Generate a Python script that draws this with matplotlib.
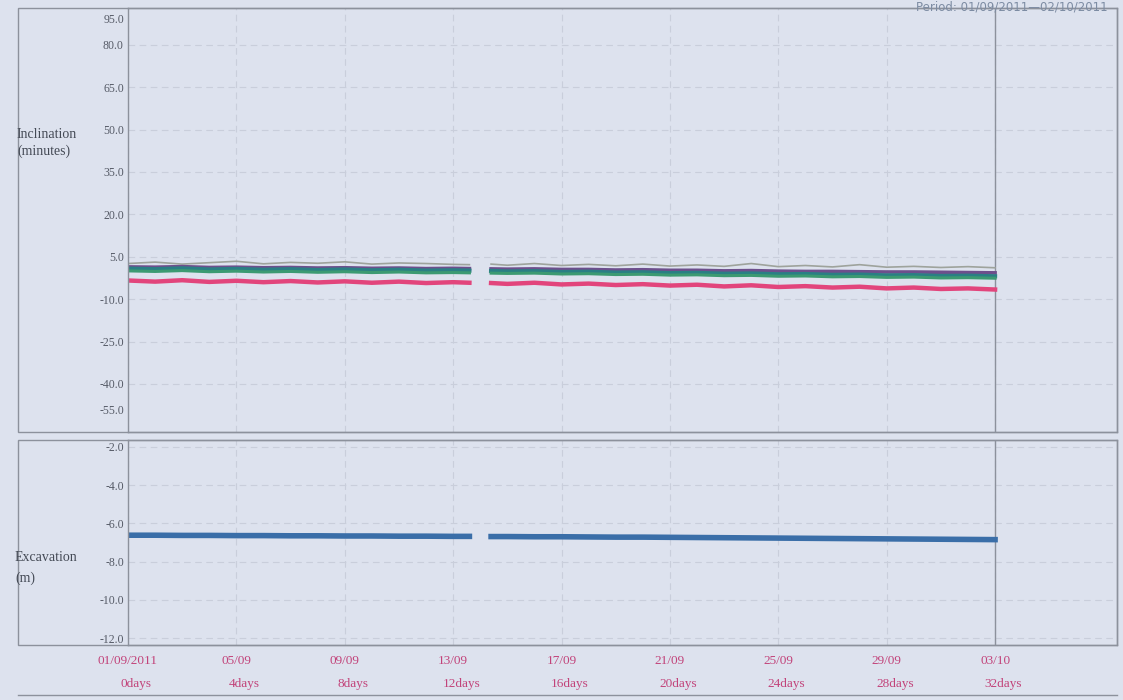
import numpy as np
import matplotlib.pyplot as plt
from matplotlib.patches import Rectangle

# elapsed days of each reading (nan row marks the data gap around 13/09)
days = [0, 1, 2, 3, 4, 5, 6, 7, 8, 9, 10, 11, 12, 12.6, 13.0,
        13.4, 14, 15, 16, 17, 18, 19, 20, 21, 22, 23, 24, 25, 26, 27,
        28, 29, 30, 31, 32]

nan = np.nan
incl_grey = [2.6, 3.1, 2.4, 2.9, 3.4, 2.5, 3.0, 2.7, 3.2, 2.4, 2.8, 2.6, 2.3, 2.2, nan,
             2.4, 2.0, 2.6, 1.9, 2.3, 1.8, 2.4, 1.7, 2.1, 1.6, 2.6, 1.5, 1.9, 1.4, 2.2,
             1.3, 1.6, 1.2, 1.5, 1.1]
incl_purple = [1.4, 1.3, 1.5, 1.2, 1.3, 1.1, 1.2, 1.0, 1.1, 0.9, 1.0, 0.8, 0.9, 0.8, nan,
               0.7, 0.6, 0.7, 0.5, 0.5, 0.3, 0.4, 0.2, 0.2, 0.0, 0.1, -0.1, -0.2, -0.2, -0.3,
               -0.4, -0.4, -0.5, -0.6, -0.7]
incl_teal = [0.8, 0.6, 0.9, 0.5, 0.7, 0.4, 0.6, 0.3, 0.5, 0.2, 0.4, 0.1, 0.2, 0.1, nan,
             0.0, -0.2, -0.1, -0.4, -0.3, -0.6, -0.5, -0.8, -0.7, -1.0, -0.9, -1.2, -1.1, -1.4, -1.3,
             -1.6, -1.5, -1.8, -1.7, -1.9]
incl_green = [0.0, -0.2, 0.1, -0.3, -0.1, -0.4, -0.2, -0.5, -0.3, -0.6, -0.4, -0.7, -0.6, -0.7, nan,
              -0.8, -0.9, -0.8, -1.1, -1.0, -1.3, -1.2, -1.5, -1.4, -1.7, -1.6, -1.9, -1.8, -2.1, -2.0,
              -2.3, -2.2, -2.5, -2.4, -2.6]
incl_red = [-3.4, -3.8, -3.3, -3.9, -3.5, -4.0, -3.6, -4.1, -3.7, -4.2, -3.8, -4.3, -4.0, -4.2, nan,
            -4.3, -4.6, -4.2, -4.8, -4.5, -5.0, -4.7, -5.2, -4.9, -5.5, -5.1, -5.7, -5.4, -5.9, -5.6,
            -6.2, -5.9, -6.4, -6.2, -6.6]
excavation = [-6.62, -6.62, -6.63, -6.63, -6.64, -6.64, -6.65, -6.65, -6.66, -6.66, -6.67, -6.67, -6.68, -6.68, nan,
              -6.69, -6.69, -6.70, -6.70, -6.71, -6.72, -6.72, -6.73, -6.74, -6.75, -6.76, -6.77, -6.78, -6.79, -6.80,
              -6.81, -6.82, -6.83, -6.84, -6.85]

tick_days = [0, 4, 8, 12, 16, 20, 24, 28, 32]
tick_dates = ['01/09/2011', '05/09', '09/09', '13/09', '17/09', '21/09', '25/09', '29/09', '03/10']
tick_elapsed = ['0days', '4days', '8days', '12days', '16days', '20days', '24days', '28days', '32days']
incl_ticks = [-40, -25, -10, 5, 20, 35, 50, 65, 80]
exc_ticks = [-12, -10, -8, -6, -4, -2]

BG = '#dde2ee'
GRID = '#c9cedb'
FRAME = '#8c919c'
TXT = '#555a66'
PINK = '#c2437a'

plt.rcParams['font.family'] = ['Liberation Serif', 'DejaVu Serif']

fig = plt.figure(figsize=(11.23, 7.0), dpi=100, facecolor=BG)


def px(x, y):
    return x / 1123, 1 - y / 700


def style_axes(ax, ticks):
    ax.set_facecolor(BG)
    ax.set_xlim(0, 36.5)
    ax.set_xticks(tick_days)
    ax.set_xticklabels([])
    ax.set_yticks(ticks)
    ax.set_yticklabels([f'{t:.1f}' for t in ticks], fontsize=8.5, color=TXT)
    ax.tick_params(length=0, pad=3)
    ax.grid(True, color=GRID, linestyle=(0, (6, 4)), linewidth=0.8)
    ax.axvline(32, color=FRAME, linewidth=1.0)
    for s in ax.spines.values():
        s.set_color(FRAME)
        s.set_linewidth(1.0)


# top panel: inclination
x0, y0 = px(128, 432)
x1, y1 = px(1117, 8)
ax1 = fig.add_axes([x0, y0, x1 - x0, y1 - y0])
style_axes(ax1, incl_ticks)
ax1.set_ylim(-57, 93)
ax1.plot(days, incl_grey, color='#9ea39c', linewidth=1.2)
ax1.plot(days, incl_purple, color='#6d4f8c', linewidth=2.6)
ax1.plot(days, incl_teal, color='#2a7f84', linewidth=3.0)
ax1.plot(days, incl_green, color='#3c9a72', linewidth=2.2)
ax1.plot(days, incl_red, color='#e2457c', linewidth=3.2)
ax1.text(-0.004, 0.985, '95.0', transform=ax1.transAxes, ha='right', va='top',
         fontsize=8.5, color=TXT)
ax1.text(-0.004, 0.05, '-55.0', transform=ax1.transAxes, ha='right', va='center',
         fontsize=8.5, color=TXT)

# bottom panel: excavation depth
x0, y0 = px(128, 645)
x1, y1 = px(1117, 440)
ax2 = fig.add_axes([x0, y0, x1 - x0, y1 - y0])
style_axes(ax2, exc_ticks)
ax2.set_ylim(-12.35, -1.65)
ax2.plot(days, excavation, color='#3a6ea8', linewidth=4.0)

# date and elapsed-day labels under the lower panel
for d, lab, el in zip(tick_days, tick_dates, tick_elapsed):
    ax2.text(d, -0.08, lab, transform=ax2.get_xaxis_transform(), ha='center', va='center',
             fontsize=9.5, color=PINK)
    ax2.text(d + 0.3, -0.19, el, transform=ax2.get_xaxis_transform(), ha='center', va='center',
             fontsize=9.5, color=PINK)

# outer boxes including the label column
for top, bottom in [(8, 432), (440, 645)]:
    lx, by = px(18, bottom)
    rx, ty = px(1117, top)
    fig.add_artist(Rectangle((lx, by), rx - lx, ty - by, transform=fig.transFigure,
                             fill=False, edgecolor=FRAME, linewidth=1.0))
lx, by = px(18, 695)
rx, ty = px(1117, 695)
fig.add_artist(plt.Line2D([lx, rx], [by, by], transform=fig.transFigure, color=FRAME, linewidth=1.0))

fig.text(*px(17, 143), 'Inclination\n(minutes)', ha='left', va='center', fontsize=10,
         color='#444a55', linespacing=1.4)
fig.text(*px(15, 568), 'Excavation\n(m)', ha='left', va='center', fontsize=10,
         color='#444a55', linespacing=1.7)
fig.text(*px(1108, 0), 'Period: 01/09/2011\u201402/10/2011', ha='right', va='top',
         fontsize=8.5, color='#7d8ca3', family=['DejaVu Sans'])

fig.savefig('out.png', dpi=100, facecolor=BG)
